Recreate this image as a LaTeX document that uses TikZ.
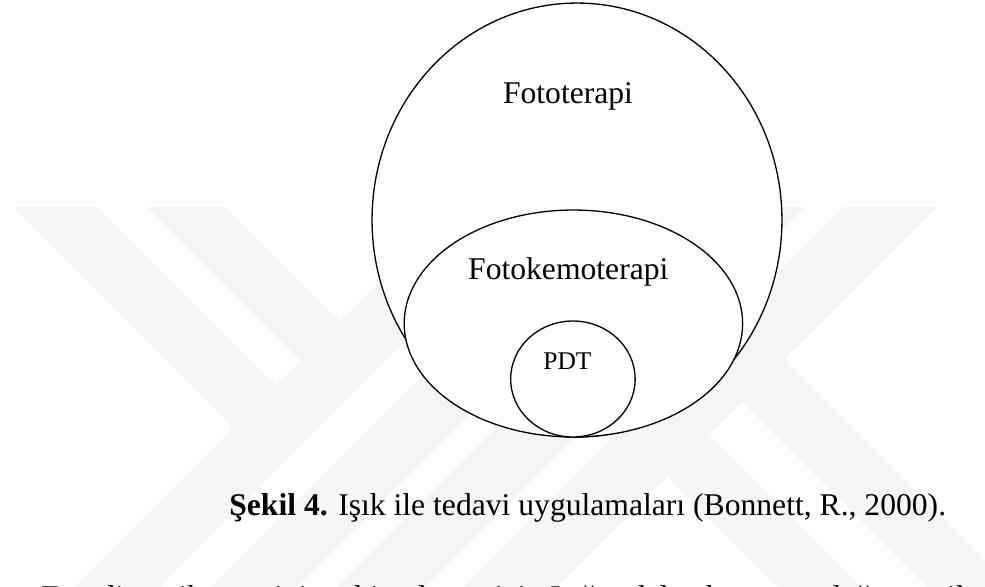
\documentclass[tikz,border=0pt]{standalone}
\usepackage{fontspec}
\setmainfont{Liberation Serif}
\usetikzlibrary{shapes.geometric}

\begin{document}
\begin{tikzpicture}[
    x=0.02cm, y=-0.02cm,
    wm/.style={fill=gray!8, draw=none},
    venn/.style={draw, ellipse, fill=white, line width=0.75pt, inner sep=0pt, outer sep=0pt},
    lbl/.style={anchor=base, inner sep=0pt, font=\fontsize{18}{21}\selectfont},
]
\useasboundingbox (0,0) rectangle (985,586);
\clip (0,0) rectangle (985,586);

% watermark behind the figure
\fill[wm] (13,207) -- (97,207) -- (318,428) -- (233.5,427.5) -- cycle;
\fill[wm] (147,207) -- (225,207) -- (382,364) -- (343,403) -- cycle;
\fill[wm] (51,610) -- (136,610) -- (539,207) -- (454,207) -- cycle;
\fill[wm] (188,610) -- (274,610) -- (677,207) -- (591,207) -- cycle;
\fill[wm] (314,610) -- (402,610) -- (805,207) -- (717,207) -- cycle;
\fill[wm] (440,610) -- (534,610) -- (937,207) -- (843,207) -- cycle;
\fill[wm] (601.5,410.5) -- (643.5,368.5) -- (885,610) -- (801,610) -- cycle;
\fill[wm] (742,401) -- (784.5,359.5) -- (1035,610) -- (951,610) -- cycle;

% nested sets
\node[venn, minimum width=8.2cm, minimum height=8.68cm] (dis) at (577,220) {};
\node[venn, minimum width=6.77cm, minimum height=4.54cm] (orta) at (573.4,323.5) {};
\node[venn, minimum width=2.49cm, minimum height=2.32cm] (ic) at (572.9,379) {};

\node[lbl] (fototerapi) at (568,103.3) {Fototerapi};
\node[lbl] (fotokemo) at (568.3,279.3) {Fotokemoterapi};
\node[lbl, font=\fontsize{14.5}{17}\selectfont] (pdt) at (567.5,369.3) {PDT};

% caption and cut-off text line
\node[lbl, anchor=base west] (sekil) at (229,515)
    {\textbf{Şekil 4.} Işık ile tedavi uygulamaları (Bonnett, R., 2000).};
\node[lbl, anchor=base west] (metin) at (41,607)
    {Fotodinamik terapinin etkin olması için Işığın dalga boyunun doğru seçilmesi gerekir.};
\end{tikzpicture}
\end{document}
